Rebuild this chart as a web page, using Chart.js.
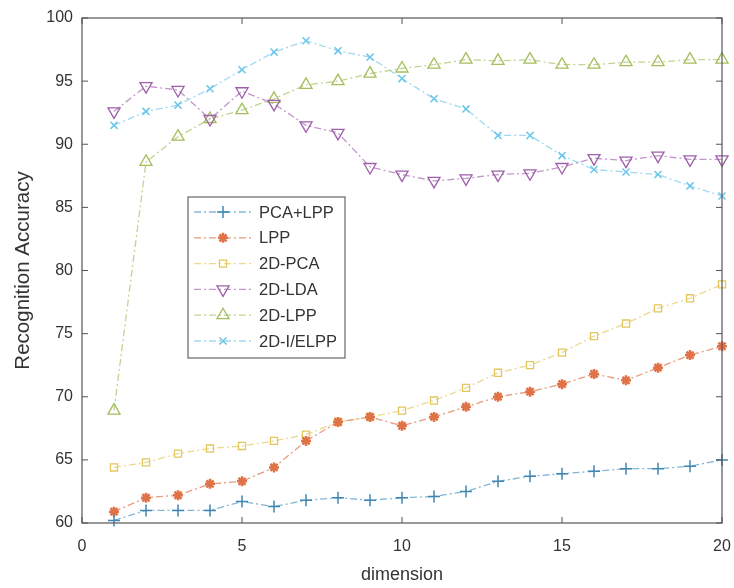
<!DOCTYPE html>
<html>
<head>
<meta charset="utf-8">
<script src="https://cdn.jsdelivr.net/npm/chart.js@4/dist/chart.umd.min.js"></script>
<style>
html,body{margin:0;padding:0;background:#fff;}
#wrap{width:734px;height:588px;}
</style>
</head>
<body>
<div id="wrap"><canvas id="c" width="734" height="588"></canvas></div>
<script>
const dimensions = [1,2,3,4,5,6,7,8,9,10,11,12,13,14,15,16,17,18,19,20];
const pcaLpp   = [60.2,61.0,61.0,61.0,61.7,61.3,61.8,62.0,61.8,62.0,62.1,62.5,63.3,63.7,63.9,64.1,64.3,64.3,64.5,65.0];
const lpp      = [60.9,62.0,62.2,63.1,63.3,64.4,66.5,68.0,68.4,67.7,68.4,69.2,70.0,70.4,71.0,71.8,71.3,72.3,73.3,74.0];
const pca2d    = [64.4,64.8,65.5,65.9,66.1,66.5,67.0,68.0,68.4,68.9,69.7,70.7,71.9,72.5,73.5,74.8,75.8,77.0,77.8,78.9];
const lda2d    = [92.6,94.6,94.3,92.0,94.2,93.2,91.5,90.9,88.2,87.6,87.1,87.3,87.6,87.7,88.2,88.9,88.7,89.1,88.8,88.8];
const lpp2d    = [68.9,88.6,90.6,92.0,92.7,93.6,94.7,95.0,95.6,96.0,96.3,96.7,96.6,96.7,96.3,96.3,96.5,96.5,96.7,96.7];
const ielpp2d  = [91.5,92.6,93.1,94.4,95.9,97.3,98.2,97.4,96.9,95.2,93.6,92.8,90.7,90.7,89.1,88.0,87.8,87.6,86.7,85.9];
const seriesNames = ['PCA+LPP','LPP','2D-PCA','2D-LDA','2D-LPP','2D-I/ELPP'];
const xTicks = [0,5,10,15,20];
const yTicks = [60,65,70,75,80,85,90,95,100];

const styles = [
  {color:'#3f86b3', line:'#86b6d4', pointStyle:'cross', radius:6, rotation:0, bw:1.5},
  {color:'#e07248', line:'#e69c7c', pointStyle:'star', radius:5, rotation:0, bw:2.5},
  {color:'#e2c75e', line:'#ecd88f', pointStyle:'rect', radius:5, rotation:0, bw:1.3},
  {color:'#9e5fab', line:'#c197c9', pointStyle:'triangle', radius:7, rotation:180, bw:1.3},
  {color:'#a3bf5c', line:'#c2d493', pointStyle:'triangle', radius:7, rotation:0, bw:1.3},
  {color:'#6cc6ea', line:'#a0daf1', pointStyle:'crossRot', radius:5, rotation:0, bw:1.5}
];
const values = [pcaLpp, lpp, pca2d, lda2d, lpp2d, ielpp2d];
const FONT = '"Liberation Sans", Arial, sans-serif';

const datasets = values.map((v,i)=>({
  label: seriesNames[i],
  data: dimensions.map((d,j)=>({x:d,y:v[j]})),
  borderColor: styles[i].line,
  backgroundColor: 'rgba(0,0,0,0)',
  borderWidth: 1.3,
  borderDash: [7,3,2,3],
  pointStyle: styles[i].pointStyle,
  pointRadius: styles[i].radius,
  pointRotation: styles[i].rotation,
  pointBorderColor: styles[i].color,
  pointBackgroundColor: i===1 ? styles[i].color : 'rgba(255,255,255,0)',
  pointBorderWidth: styles[i].bw,
  tension: 0,
  clip: false
}));

const boxPlugin = {
  id:'box',
  afterDatasetsDraw(chart){
    const {ctx, chartArea:a, scales:{x,y}} = chart;
    ctx.save();
    ctx.strokeStyle = '#555';
    ctx.lineWidth = 1.2;
    ctx.strokeRect(a.left, a.top, a.right-a.left, a.bottom-a.top);
    ctx.lineWidth = 1;
    xTicks.forEach(t=>{
      const px = x.getPixelForValue(t);
      ctx.beginPath(); ctx.moveTo(px,a.bottom); ctx.lineTo(px,a.bottom-6); ctx.stroke();
      ctx.beginPath(); ctx.moveTo(px,a.top); ctx.lineTo(px,a.top+6); ctx.stroke();
    });
    yTicks.forEach(t=>{
      const py = y.getPixelForValue(t);
      ctx.beginPath(); ctx.moveTo(a.left,py); ctx.lineTo(a.left+6,py); ctx.stroke();
      ctx.beginPath(); ctx.moveTo(a.right,py); ctx.lineTo(a.right-6,py); ctx.stroke();
    });
    // legend
    const lx = 188, ly = 197, lw = 157, lh = 161;
    ctx.fillStyle = '#fff';
    ctx.fillRect(lx, ly, lw, lh);
    ctx.strokeStyle = '#666';
    ctx.lineWidth = 1.2;
    ctx.strokeRect(lx, ly, lw, lh);
    ctx.font = '16.5px ' + FONT;
    ctx.textBaseline = 'middle';
    chart.data.datasets.forEach((ds,i)=>{
      const cy = ly + 15 + i*25.8;
      ctx.save();
      ctx.strokeStyle = ds.borderColor;
      ctx.lineWidth = 1.3;
      ctx.setLineDash(ds.borderDash);
      ctx.beginPath(); ctx.moveTo(lx+6,cy); ctx.lineTo(lx+64,cy); ctx.stroke();
      ctx.restore();
      ctx.save();
      ctx.strokeStyle = ds.pointBorderColor;
      ctx.fillStyle = ds.pointBackgroundColor;
      ctx.lineWidth = ds.pointBorderWidth;
      Chart.helpers.drawPoint(ctx, {pointStyle: ds.pointStyle, radius: ds.pointRadius, rotation: ds.pointRotation, borderWidth: ds.pointBorderWidth}, lx+35, cy);
      ctx.restore();
      ctx.fillStyle = '#333';
      ctx.fillText(ds.label, lx+71, cy+1);
    });
    ctx.restore();
  }
};

new Chart(document.getElementById('c'), {
  type:'line',
  data:{datasets},
  options:{
    responsive:false,
    animation:false,
    layout:{padding:{top:18,right:12,left:0,bottom:0}},
    plugins:{legend:{display:false}, tooltip:{enabled:false}},
    scales:{
      x:{
        type:'linear', min:0, max:20,
        afterFit(s){ s.height = 65; s.paddingRight = 0; s.paddingLeft = 0; },
        afterBuildTicks(s){ s.ticks = xTicks.map(v=>({value:v})); },
        grid:{display:false, drawTicks:false},
        border:{display:false},
        ticks:{color:'#333', font:{size:16, family:FONT}, padding:14, maxRotation:0},
        title:{display:true, text:'dimension', color:'#333', font:{size:18, family:FONT}, padding:{top:0,bottom:2}}
      },
      y:{
        type:'linear', min:60, max:100,
        afterFit(s){ s.width = 82; s.paddingTop = 0; s.paddingBottom = 0; },
        afterBuildTicks(s){ s.ticks = yTicks.map(v=>({value:v})); },
        grid:{display:false, drawTicks:false},
        border:{display:false},
        ticks:{color:'#333', font:{size:16, family:FONT}, padding:9},
        title:{display:true, text:'Recognition Accuracy', color:'#333', font:{size:20.5, family:FONT}, padding:{top:11,bottom:0}}
      }
    }
  },
  plugins:[boxPlugin]
});
</script>
</body>
</html>
